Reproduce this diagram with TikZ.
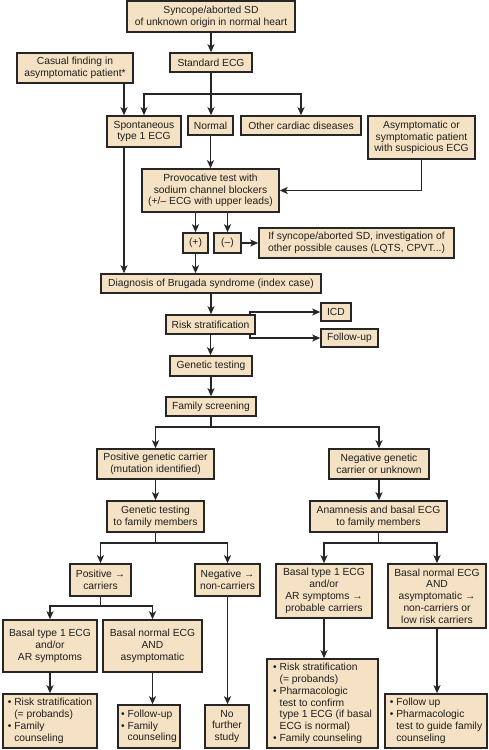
\documentclass[tikz,border=0pt]{standalone}
\usepackage{fontspec}
\setmainfont{Liberation Sans}
\usepackage{xcolor}
\usepackage{tikz}
\usetikzlibrary{arrows.meta}
\definecolor{boxfill}{HTML}{F5E2C4}
\definecolor{boxline}{HTML}{262626}
\definecolor{boxtext}{HTML}{1E1E1E}
\newcommand{\bul}{\textbullet\ }
\newcommand{\ind}{\phantom{\textbullet\ }}

\begin{document}
\begin{tikzpicture}[x=1pt,y=-1pt,>={Stealth[length=8pt,width=7pt,inset=2pt]}]
    \tikzstyle{box}=[rectangle,draw=boxline,fill=boxfill,line width=1.5pt,
        text=boxtext,align=center,inner sep=1pt,font=\fontsize{10.3}{11.8}\selectfont]
    \tikzstyle{link}=[draw=boxline,line width=1.5pt]
    \useasboundingbox (0,0) rectangle (489,750);

    % index case
    \node[box,minimum width=168pt,minimum height=31pt] (top) at (211,16.5) {Syncope/aborted SD\\of unknown origin in normal heart};
    \node[box,minimum width=116pt,minimum height=30pt] (casual) at (75,68) {Casual finding in\\asymptomatic patient*};
    \node[box,minimum width=82pt,minimum height=19pt] (stdecg) at (211,62.5) {Standard ECG};
    \node[box,minimum width=74pt,minimum height=31pt] (spont) at (144,131.5) {Spontaneous\\type 1 ECG};
    \node[box,minimum width=45pt,minimum height=19pt] (normal) at (210.5,125.5) {Normal};
    \node[box,minimum width=120pt,minimum height=19pt] (other) at (301,125.5) {Other cardiac diseases};
    \node[box,minimum width=107pt,minimum height=43pt] (asym) at (421.5,137.5) {Asymptomatic or\\symptomatic patient\\with suspicious ECG};
    \node[box,minimum width=137pt,minimum height=43pt] (provoc) at (210.5,190.5) {Provocative test with\\sodium channel blockers\\(+/– ECG with upper leads)};
    \node[box,minimum width=25pt,minimum height=20pt] (plus) at (195.5,243) {(+)};
    \node[box,minimum width=27pt,minimum height=20pt] (minus) at (227.5,243) {(–)};
    \node[box,minimum width=195pt,minimum height=30pt] (ifsync) at (356.5,243) {If syncope/aborted SD, investigation of\\other possible causes (LQTS, CPVT...)};
    \node[box,minimum width=220pt,minimum height=19pt] (diag) at (211,283.5) {Diagnosis of Brugada syndrome (index case)};
    \node[box,minimum width=89pt,minimum height=19pt] (risk) at (210.5,324.5) {Risk stratification};
    \node[box,minimum width=30pt,minimum height=18pt] (icd) at (336,312) {ICD};
    \node[box,minimum width=57pt,minimum height=18pt] (fup) at (349.5,338) {Follow-up};
    \node[box,minimum width=82pt,minimum height=20pt] (gentest) at (211,366) {Genetic testing};
    \node[box,minimum width=90pt,minimum height=19pt] (famscr) at (211,406.5) {Family screening};

    % family members
    \node[box,minimum width=117pt,minimum height=30pt] (poscarr) at (155.5,464) {Positive genetic carrier\\(mutation identified)};
    \node[box,minimum width=100pt,minimum height=30pt] (negcarr) at (379,464) {Negative genetic\\carrier or unknown};
    \node[box,minimum width=97pt,minimum height=31pt] (gentfam) at (155.5,516.5) {Genetic testing\\to family members};
    \node[box,minimum width=137pt,minimum height=31pt] (anam) at (378.5,516.5) {Anamnesis and basal ECG\\to family members};
    \node[box,minimum width=61pt,minimum height=32pt] (posc) at (100.5,580) {Positive →\\carriers};
    \node[box,minimum width=65pt,minimum height=32pt] (negc) at (227.5,580) {Negative →\\non-carriers};
    \node[box,minimum width=96pt,minimum height=54pt] (rbasal) at (324,591) {Basal type 1 ECG\\and/or\\AR symptoms →\\probable carriers};
    \node[box,minimum width=98pt,minimum height=64pt] (rnormal) at (437,596) {Basal normal ECG\\AND\\asymptomatic →\\non-carriers or\\low risk carriers};
    \node[box,minimum width=94pt,minimum height=52pt] (lbasal) at (50,646) {Basal type 1 ECG\\and/or\\AR symptoms};
    \node[box,minimum width=99pt,minimum height=52pt] (lnormal) at (152.5,646) {Basal normal ECG\\AND\\asymptomatic};
    \node[box,align=left,minimum width=94pt,minimum height=54pt] (lrisk) at (50,721) {\bul Risk stratification\\\ind(= probands)\\\bul Family\\\ind counseling};
    \node[box,align=left,minimum width=62pt,minimum height=43pt] (lfup) at (149,726.5) {\bul Follow-up\\\bul Family\\\ind counseling};
    \node[box,minimum width=44pt,minimum height=43pt] (nofurther) at (227,726.5) {No\\further\\study};
    \node[box,align=left,minimum width=111pt,minimum height=89pt] (rrisk) at (322.5,703.5) {\bul Risk stratification\\\ind(= probands)\\\bul Pharmacologic\\\ind test to confirm\\\ind type 1 ECG (if basal\\\ind ECG is normal)\\\bul Family counseling};
    \node[box,align=left,minimum width=102pt,minimum height=54pt] (rfup) at (436,721) {\bul Follow up\\\bul Pharmacologic\\\ind test to guide family\\\ind counseling};

    % straight arrows down
    \foreach \a/\b in {top/stdecg,normal/provoc,plus/diag,diag/risk,risk/gentest,gentest/famscr,
        poscarr/gentfam,negcarr/anam,negc/nofurther,lbasal/lrisk,lnormal/lfup,rbasal/rrisk,rnormal/rfup} {
        \draw[link,->] (\a) -- (\a |- \b.north);
    };
    \foreach \b in {plus,minus} {
        \draw[link,->] (\b |- provoc.south) -- (\b);
    };
    \draw[link,->] (minus) -- (ifsync);
    \draw[link,->] (asym) |- (provoc);

    % left lane past spontaneous ECG
    \coordinate (lane) at (124,0);
    \draw[link,->] (casual.south -| lane) -- (spont.north -| lane);
    \draw[link,->] (spont.south -| lane) -- (diag.north -| lane);

    % risk outcomes
    \draw[link,->] ([xshift=-6pt]risk.north east) |- (icd);
    \draw[link,->] ([xshift=-6pt]risk.south east) |- (fup);

    % branches
    \coordinate (b1) at (211,94);
    \coordinate (b2) at (211,427);
    \coordinate (b3) at (155.5,543);
    \coordinate (b4) at (378.5,543);
    \coordinate (b5) at (100.5,606);
    \draw[link] (stdecg) -- (b1);
    \draw[link] (famscr) -- (b2);
    \draw[link] (gentfam) -- (b3);
    \draw[link] (anam) -- (b4);
    \draw[link] (posc) -- (b5);
    \foreach \j/\t in {b1/spont,b1/other,b2/poscarr,b2/negcarr,b3/posc,b3/negc,
        b4/rbasal,b4/rnormal,b5/lbasal,b5/lnormal} {
        \draw[link,->] (\j) -| (\t);
    };
    \draw[link,->] (b1) -- (b1 |- normal.north);
\end{tikzpicture}
\end{document}
